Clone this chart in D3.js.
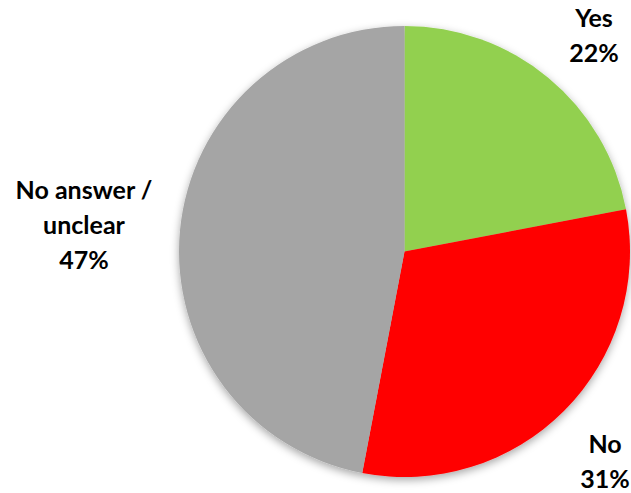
<!DOCTYPE html>
<html>
<head>
<meta charset="utf-8">
<script src="https://cdn.jsdelivr.net/npm/d3@7"></script>
<style>
  html, body { margin: 0; padding: 0; background: #fff; }
  svg { display: block; }
  .lbl { font-family: Lato, "Open Sans", sans-serif; font-weight: bold; font-size: 25px; fill: #000; }
</style>
</head>
<body>
<svg id="chart" width="631" height="493"></svg>
<script>
// ── data ──────────────────────────────
const categories = ["Yes", "No", "No answer / unclear"];
const shares     = [22, 31, 47];
const labelLines = [["Yes", "22%"], ["No", "31%"], ["No answer /", "unclear", "47%"]];
const colors     = ["#92D050", "#FF0000", "#A5A5A5"];

const W = 631, H = 493;
const cx = 404.5, cy = 251.5, R = 225.5;

// where each label block sits (first baseline), relative to the pie centre
const labelAt = [[189.5, -224.5], [200.5, 201.5], [-320.5, -52.5]];
const lineH = 35;

const svg = d3.select("#chart");

// soft drop shadow like the office chart
const defs = svg.append("defs");
const f = defs.append("filter").attr("id", "shadow")
  .attr("x", "-10%").attr("y", "-10%").attr("width", "120%").attr("height", "120%");
f.append("feDropShadow")
  .attr("dx", 0).attr("dy", 3).attr("stdDeviation", 4)
  .attr("flood-color", "#000").attr("flood-opacity", 0.35);

const g = svg.append("g").attr("transform", `translate(${cx},${cy})`);

const pie = d3.pie().sort(null).value(d => d);
const arcs = pie(shares);
const arc = d3.arc().innerRadius(0).outerRadius(R);

g.append("g").attr("filter", "url(#shadow)")
  .selectAll("path")
  .data(arcs)
  .join("path")
    .attr("d", arc)
    .attr("fill", (d, i) => colors[i]);

// labels
g.selectAll("text.lbl")
  .data(arcs)
  .join("text")
    .attr("class", "lbl")
    .attr("text-anchor", "middle")
    .each(function(d, i) {
      const [x, y] = labelAt[i];
      const t = d3.select(this).attr("x", x).attr("y", y);
      labelLines[i].forEach((s, k) => {
        t.append("tspan").attr("x", x).attr("dy", k === 0 ? 0 : lineH).text(s);
      });
    });
</script>
</body>
</html>
